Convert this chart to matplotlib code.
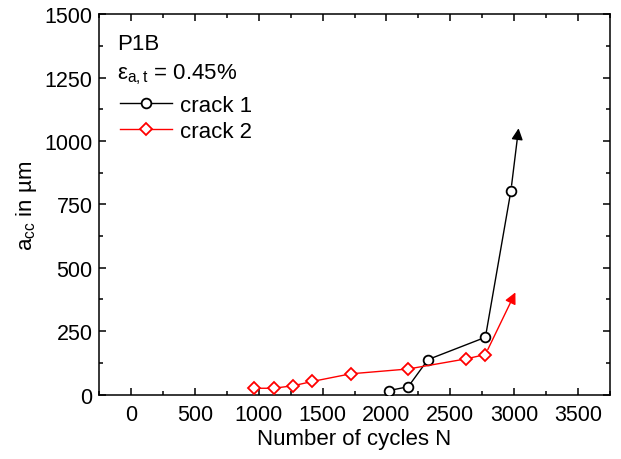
import matplotlib
matplotlib.use("Agg")
import matplotlib.pyplot as plt
from matplotlib.ticker import MultipleLocator

# crack 1 (black circles) and crack 2 (red diamonds)
n_crack1 = [2020, 2170, 2325, 2775, 2975]
a_crack1 = [16, 31, 138, 226, 804]
arrow1_end = (3035, 1050)

n_crack2 = [960, 1115, 1270, 1420, 1720, 2170, 2625, 2775]
a_crack2 = [25, 25, 35, 52, 82, 101, 141, 158]
arrow2_end = (3010, 403)

plt.rcParams["font.family"] = ["Liberation Sans", "DejaVu Sans"]
plt.rcParams["mathtext.fontset"] = "custom"
plt.rcParams["mathtext.rm"] = "Liberation Sans"
plt.rcParams["mathtext.it"] = "Liberation Sans:italic"

fig = plt.figure(figsize=(6.21, 4.60), dpi=100)
ax = fig.add_axes([0.160, 0.140, 0.822, 0.827])

ax.plot(n_crack1, a_crack1, color="black", lw=1.0, marker="o", ms=7,
        mfc="white", mec="black", mew=1.3, label="crack 1", zorder=3)
ax.plot(n_crack2, a_crack2, color="red", lw=1.0, marker="D", ms=6.3,
        mfc="white", mec="red", mew=1.3, label="crack 2", zorder=3)

for n, a, end, c in [(n_crack1, a_crack1, arrow1_end, "black"),
                     (n_crack2, a_crack2, arrow2_end, "red")]:
    ax.annotate("", xy=end, xytext=(n[-1], a[-1]),
                arrowprops=dict(arrowstyle="-|>", color=c, lw=1.0,
                                mutation_scale=17, shrinkA=4, shrinkB=0))

ax.set_xlim(-250, 3750)
ax.set_ylim(0, 1500)
ax.xaxis.set_major_locator(MultipleLocator(500))
ax.xaxis.set_minor_locator(MultipleLocator(250))
ax.yaxis.set_major_locator(MultipleLocator(250))
ax.yaxis.set_minor_locator(MultipleLocator(125))
ax.tick_params(which="both", direction="in", top=True, right=True,
               labelsize=15.5, width=1.1)
ax.tick_params(which="major", length=5, pad=5)
ax.tick_params(axis="x", which="major", pad=7)
ax.tick_params(which="minor", length=3)
for s in ax.spines.values():
    s.set_linewidth(1.1)

ax.set_xlabel("Number of cycles N", fontsize=16, labelpad=2)
ax.set_ylabel(r"a$_\mathregular{cc}$ in µm", fontsize=16, labelpad=4)

ax.text(0.034, 0.908, "P1B", transform=ax.transAxes, fontsize=16, va="baseline")
ax.text(0.034, 0.832, r"ε$_\mathregular{a,t}$ = 0.45%", transform=ax.transAxes,
        fontsize=16, va="baseline")

ax.legend(loc="upper left", bbox_to_anchor=(0.0405, 0.787), frameon=False,
          fontsize=16, handlelength=2.35, handletextpad=0.36, labelspacing=0.2,
          borderaxespad=0, borderpad=0)

fig.savefig("out.png", dpi=100)
